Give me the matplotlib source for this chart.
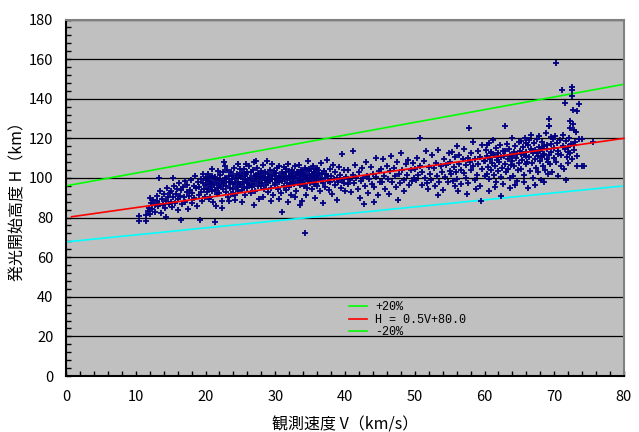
import matplotlib
matplotlib.use("Agg")
import matplotlib.pyplot as plt
from matplotlib.lines import Line2D
from matplotlib.ticker import MultipleLocator

plt.rcParams['font.family'] = ['Noto Sans CJK JP', 'DejaVu Sans']

# ---- data (V km/s, H km) ----
pts_10_15 = [(10.5,78.3),(10.5,81.0),(11.4,78.3),(11.4,81.2),(11.7,83.5),(11.9,85.0),(12.1,82.0),(12.2,87.6),(12.4,84.3),(12.5,89.0),(12.7,86.2),(12.8,83.0),(13.0,88.4),(13.1,91.0),(13.2,85.6),(13.4,87.0),(13.5,93.5),(13.6,82.5),(13.8,89.6),(13.9,86.4),(14.1,91.8),(14.2,84.8),(14.4,88.2),(14.5,95.0),(14.6,90.4),(14.8,86.8),(14.9,92.6),(13.3,100.2),(12.0,90.0),(14.3,80.5)]
pts_15_20 = [(15.0,88.0),(15.1,93.2),(15.2,85.4),(15.3,100.2),(15.4,90.6),(15.5,96.0),(15.6,87.2),(15.8,92.0),(15.9,94.6),(16.0,89.4),(16.1,83.6),(16.2,97.2),(16.3,91.0),(16.5,78.8),(16.5,93.8),(16.6,86.6),(16.8,95.4),(16.9,90.2),(17.0,98.4),(17.1,88.0),(17.3,92.8),(17.4,96.6),(17.5,84.4),(17.6,90.8),(17.8,94.0),(17.9,99.0),(18.0,87.6),(18.1,92.4),(18.3,96.0),(18.4,89.8),(18.5,101.0),(18.7,94.8),(18.8,86.0),(18.9,98.0),(19.0,91.6),(19.1,95.6),(19.2,79.0),(19.3,99.6),(19.4,93.0),(19.5,88.4),(19.6,97.2),(19.7,101.8),(19.8,94.2),(19.9,90.6),(20.0,98.8)]
pts_20_25 = [(20.1,96.2),(20.1,100.4),(20.2,92.8),(20.3,98.4),(20.4,94.6),(20.4,102.0),(20.5,89.6),(20.6,97.0),(20.7,99.8),(20.8,95.2),(20.9,101.2),(21.0,93.6),(21.0,98.0),(21.1,87.8),(21.2,96.6),(21.3,78.0),(21.3,100.6),(21.4,94.0),(21.5,99.2),(21.6,91.8),(21.7,97.6),(21.8,103.4),(21.9,95.8),(22.0,99.0),(22.0,92.4),(22.1,101.6),(22.2,96.4),(22.3,88.6),(22.4,98.6),(22.5,94.2),(22.5,102.8),(22.6,108.0),(22.7,97.2),(22.8,100.2),(22.9,93.0),(23.0,99.6),(23.0,96.0),(23.1,104.0),(23.2,90.6),(23.3,98.2),(23.4,101.0),(23.5,95.0),(23.5,97.8),(23.6,103.0),(23.7,92.0),(23.8,99.4),(23.9,96.8),(24.0,100.8),(24.0,94.4),(24.1,105.0),(24.2,97.4),(24.3,89.0),(24.4,99.8),(24.5,102.2),(24.5,95.6),(24.6,98.0),(24.7,93.2),(24.8,101.4),(24.9,96.6),(25.0,104.4),(20.6,90.4),(21.5,86.0),(22.3,84.6),(23.4,88.2),(24.2,91.2),(20.9,104.6),(22.8,106.0),(24.6,107.2),(21.8,95.0),(23.9,91.8)]
pts_25_30 = [(25.0,97.0),(25.1,100.6),(25.2,93.8),(25.3,102.4),(25.4,98.2),(25.5,95.4),(25.5,104.6),(25.6,99.6),(25.7,91.6),(25.8,101.8),(25.9,97.6),(26.0,103.2),(26.0,94.8),(26.1,99.0),(26.2,106.2),(26.3,96.4),(26.4,100.0),(26.5,92.6),(26.5,102.8),(26.6,98.6),(26.7,95.2),(26.8,104.0),(26.9,100.8),(27.0,107.8),(27.0,97.0),(27.1,93.4),(27.2,101.4),(27.3,99.2),(27.4,104.8),(27.5,96.0),(27.5,102.0),(27.6,98.0),(27.7,89.6),(27.8,100.4),(27.9,95.8),(28.0,103.6),(28.0,99.8),(28.1,97.2),(28.2,106.6),(28.3,101.0),(28.4,94.2),(28.5,98.8),(28.5,103.0),(28.6,100.2),(28.7,96.6),(28.8,108.4),(28.9,102.2),(29.0,97.8),(29.0,93.0),(29.1,100.6),(29.2,104.2),(29.3,98.4),(29.4,95.0),(29.5,101.6),(29.5,106.8),(29.6,99.4),(29.7,91.4),(29.8,103.4),(29.9,97.4),(30.0,100.8),(25.3,88.0),(26.9,86.4),(28.2,90.2),(29.4,88.6),(25.8,107.0),(27.3,108.6),(26.4,96.6),(28.7,99.0),(27.9,102.6),(25.6,101.0)]
pts_30_35 = [(30.0,96.4),(30.1,102.6),(30.2,99.0),(30.3,104.8),(30.4,94.6),(30.5,101.2),(30.5,97.8),(30.6,106.0),(30.7,100.0),(30.8,92.4),(30.9,103.0),(31.0,98.6),(31.0,83.0),(31.1,101.8),(31.2,96.0),(31.3,105.4),(31.4,99.6),(31.5,102.8),(31.5,94.0),(31.6,100.4),(31.7,97.4),(31.8,107.0),(31.9,101.0),(32.0,95.6),(32.0,103.6),(32.1,99.2),(32.2,101.6),(32.3,91.2),(32.4,104.2),(32.5,98.2),(32.5,100.6),(32.6,102.4),(32.7,96.8),(32.8,105.8),(32.9,99.8),(33.0,101.4),(33.0,93.6),(33.1,103.2),(33.2,98.0),(33.3,100.2),(33.4,106.6),(33.5,102.0),(33.5,96.2),(33.6,99.4),(33.7,104.0),(33.8,101.0),(33.9,88.4),(34.0,102.6),(34.0,98.8),(34.1,100.8),(34.2,72.0),(34.2,105.0),(34.3,97.0),(34.4,103.8),(34.5,100.0),(34.5,94.8),(34.6,101.6),(34.7,108.6),(34.8,99.0),(34.9,103.4),(35.0,97.6),(35.0,101.2),(30.6,89.6),(31.8,88.0),(32.9,90.4),(33.6,86.2),(34.4,91.4),(30.3,99.4),(31.3,100.4),(32.2,97.0),(33.2,102.8),(34.8,104.6),(33.8,97.2),(34.6,99.6),(32.6,100.0),(31.6,104.4),(33.4,99.0),(33.9,103.0),(34.3,100.6),(34.9,98.4),(34.1,96.0),(33.7,101.8)]
pts_35_40 = [(35.3,102.2),(35.6,100.2),(35.9,103.8),(35.4,98.0),(36.1,101.0),(35.8,96.8),(35.1,104.6),(35.5,99.6),(36.2,104.2),(35.2,100.4),(35.3,94.2),(35.4,106.0),(35.5,97.0),(35.6,103.0),(35.7,89.8),(35.8,101.4),(35.9,98.6),(36.0,105.2),(36.0,96.0),(36.2,100.0),(36.3,102.4),(36.4,93.2),(36.5,99.2),(36.6,107.4),(36.7,101.8),(36.8,97.4),(36.9,87.6),(37.0,103.6),(37.1,99.8),(37.2,95.4),(37.3,102.0),(37.4,109.0),(37.5,98.4),(37.6,100.8),(37.7,94.0),(37.8,104.4),(37.9,97.8),(38.0,101.2),(38.2,92.0),(38.3,106.4),(38.4,99.4),(38.5,96.6),(38.6,103.2),(38.8,100.2),(38.9,88.8),(39.0,98.0),(39.1,105.6),(39.3,101.6),(39.4,95.0),(39.5,112.0),(39.6,99.0),(39.8,103.8),(39.9,97.2),(40.0,93.6)]
pts_40_50 = [(40.2,100.6),(40.4,96.8),(40.5,104.0),(40.7,98.8),(40.9,93.0),(41.1,113.6),(41.2,101.6),(41.3,97.6),(41.5,106.4),(41.6,99.8),(41.8,94.4),(42.0,102.8),(42.1,90.0),(42.3,98.4),(42.5,104.8),(42.6,100.2),(42.8,96.0),(43.0,108.0),(43.1,101.0),(43.3,92.6),(43.5,99.4),(43.7,105.6),(43.8,97.0),(44.0,102.2),(44.2,95.2),(44.4,110.0),(44.5,100.4),(44.7,91.4),(44.9,103.6),(45.0,98.2),(42.7,86.6),(44.1,88.0),(45.2,104.6),(45.3,97.8),(45.5,109.6),(45.6,101.2),(45.8,94.4),(46.0,106.0),(46.1,99.6),(46.3,92.0),(46.5,103.4),(46.6,111.0),(46.8,98.0),(47.0,105.2),(47.2,100.8),(47.3,95.6),(47.5,108.2),(47.7,102.0),(47.9,97.2),(48.0,112.6),(48.2,104.0),(48.4,99.0),(48.5,93.4),(48.7,106.8),(48.9,101.4),(49.1,109.0),(49.2,96.4),(49.4,103.8),(49.6,98.6),(49.8,107.6),(49.9,100.0),(47.6,89.0)]
pts_50_60 = [(50.0,104.4),(50.2,98.8),(50.3,110.2),(50.5,101.6),(50.7,120.2),(50.8,106.0),(51.0,96.6),(51.1,103.2),(51.3,108.8),(51.5,100.0),(51.6,113.4),(51.8,97.4),(52.0,105.4),(52.2,102.0),(52.3,99.2),(52.5,111.8),(52.7,104.8),(52.9,96.0),(53.0,107.6),(53.2,101.0),(53.4,114.2),(53.5,98.2),(53.7,105.8),(53.9,103.0),(54.0,94.0),(54.2,109.4),(54.4,100.6),(54.5,106.6),(54.7,97.8),(54.9,112.4),(55.0,103.6),(53.3,91.6),(51.9,94.6),(55.1,108.2),(55.2,101.8),(55.4,113.0),(55.5,98.4),(55.6,105.4),(55.8,110.6),(55.9,103.0),(56.0,116.2),(56.1,99.6),(56.3,107.0),(56.4,111.8),(56.6,104.2),(56.7,96.8),(56.9,109.4),(57.0,102.6),(57.1,114.6),(57.3,106.4),(57.4,100.2),(57.6,110.0),(57.7,97.2),(57.9,107.8),(58.0,112.8),(58.1,103.8),(58.3,118.0),(58.4,105.8),(58.6,99.0),(58.7,109.8),(58.9,101.4),(59.0,113.8),(59.1,107.0),(59.3,96.0),(59.4,110.8),(59.6,104.6),(59.7,116.6),(59.9,108.6),(60.0,100.8),(56.2,93.4),(57.5,92.0),(58.8,94.6),(59.5,88.6),(57.8,125.0),(55.7,95.8)]
pts_60_65 = [(60.1,108.4),(60.2,114.0),(60.3,102.2),(60.4,111.2),(60.5,105.6),(60.6,117.8),(60.7,99.4),(60.8,109.6),(60.9,113.2),(61.0,104.0),(61.1,107.4),(61.2,119.0),(61.3,101.6),(61.4,111.8),(61.5,106.2),(61.6,115.0),(61.7,98.2),(61.8,109.0),(61.9,112.6),(62.0,103.4),(62.1,108.0),(62.2,116.4),(62.3,100.6),(62.4,110.4),(62.5,105.0),(62.6,113.6),(62.7,97.0),(62.8,111.0),(62.9,126.3),(63.0,107.2),(63.1,102.8),(63.2,117.2),(63.3,109.8),(63.4,104.4),(63.5,114.6),(63.6,99.8),(63.7,111.6),(63.8,106.6),(63.9,120.4),(64.0,108.8),(64.1,101.2),(64.2,113.0),(64.3,105.8),(64.4,116.0),(64.5,110.0),(64.6,98.6),(64.7,112.2),(64.8,103.8),(64.9,118.4),(65.0,107.6),(60.6,93.6),(61.5,95.4),(62.4,91.0),(63.6,94.8),(64.4,96.2),(61.0,112.8),(62.0,110.8),(63.0,113.8),(64.0,111.2),(60.3,116.6)]
pts_65_70 = [(65.1,113.8),(65.2,104.6),(65.3,118.6),(65.4,109.2),(65.5,115.4),(65.6,101.4),(65.7,111.6),(65.8,120.2),(65.9,106.8),(66.0,113.0),(66.1,108.0),(66.2,95.0),(66.3,116.8),(66.4,110.4),(66.5,103.6),(66.6,114.6),(66.7,121.6),(66.8,107.4),(66.9,112.4),(67.0,100.2),(67.1,117.4),(67.2,109.8),(67.3,114.0),(67.4,105.2),(67.5,119.6),(67.6,111.0),(67.7,102.8),(67.8,115.8),(67.9,108.6),(68.0,113.4),(68.1,99.2),(68.2,118.0),(68.3,110.8),(68.4,106.0),(68.5,116.2),(68.6,112.0),(68.7,104.0),(68.8,122.8),(68.9,109.4),(69.0,114.8),(69.1,101.8),(69.2,126.0),(69.3,111.4),(69.4,107.0),(69.5,117.0),(69.6,113.2),(69.7,103.0),(69.8,119.8),(69.9,110.2),(70.0,115.2),(65.3,112.0),(66.0,117.6),(66.8,113.6),(67.5,112.8),(68.2,114.6),(68.9,116.4),(69.6,120.6),(65.7,97.8),(67.2,96.6),(68.6,98.0),(66.4,119.0),(67.8,121.2),(69.1,108.2),(65.9,111.0),(68.4,111.6)]
pts_70_76 = [(70.3,158.0),(71.1,144.3),(72.5,145.8),(72.6,144.3),(72.5,141.3),(71.5,138.0),(73.5,137.2),(72.7,134.3),(73.3,133.7),(69.3,129.8),(69.2,126.3),(72.2,128.6),(72.2,125.4),(72.7,127.1),(72.9,124.2),(73.1,123.0),(70.1,121.0),(70.4,117.6),(70.6,113.8),(70.8,119.4),(71.0,111.6),(71.2,116.0),(71.3,121.8),(71.5,114.4),(71.7,118.6),(71.8,110.4),(72.0,115.6),(72.1,120.0),(72.3,112.8),(72.4,117.0),(72.6,109.6),(72.8,114.2),(73.0,118.2),(73.2,111.0),(70.2,108.0),(70.9,106.2),(71.4,104.6),(72.0,107.4),(74.0,105.9),(74.3,105.9),(71.7,98.8),(70.6,101.0),(73.2,105.9),(75.5,118.0),(74.0,119.8),(70.5,112.0),(71.9,113.0),(72.9,116.4),(73.6,119.6)]

# reference lines (endpoints)
fit_v = [0.8, 80.0]
fit_h = [80.4, 120.0]
upper_v = [0.0, 80.0]
upper_h = [96.0, 147.3]
lower_v = [0.0, 80.0]
lower_h = [67.7, 96.0]

legend_labels = ["+20%", "H = 0.5V+80.0", "-20%"]
legend_colors = ["#00FF00", "#FF0000", "#00FF00"]

all_pts = (pts_10_15 + pts_15_20 + pts_20_25 + pts_25_30 + pts_30_35 + pts_35_40
           + pts_40_50 + pts_50_60 + pts_60_65 + pts_65_70 + pts_70_76)
obs_v = [p[0] for p in all_pts]
obs_h = [p[1] for p in all_pts]

fig = plt.figure(figsize=(6.39, 4.32), dpi=100)
ax = fig.add_axes([66/639, 1-376/432, 558/639, 356.5/432])
ax.set_facecolor("#C0C0C0")

ax.plot(upper_v, upper_h, color="#00FF00", lw=1.2, zorder=2)
ax.plot(lower_v, lower_h, color="#00FFFF", lw=1.2, zorder=2)
ax.plot(obs_v, obs_h, ls="none", marker="+", ms=4.2, mew=1.3, color="#000080", zorder=3)
ax.plot(fit_v, fit_h, color="#FF0000", lw=1.2, zorder=4, clip_on=False)

ax.set_xlim(0, 80)
ax.set_ylim(0, 180)
ax.xaxis.set_major_locator(MultipleLocator(10))
ax.xaxis.set_minor_locator(MultipleLocator(2))
ax.yaxis.set_major_locator(MultipleLocator(20))
ax.yaxis.set_minor_locator(MultipleLocator(4))
ax.set_axisbelow(True)
ax.yaxis.grid(True, which="major", color="black", lw=0.9)
ax.tick_params(which="both", direction="in", length=3.5, width=1, colors="black",
               labelsize=10.5)
ax.tick_params(axis="y", pad=9)
ax.tick_params(axis="x", pad=10)

for s in ["left", "bottom"]:
    ax.spines[s].set_color("black")
    ax.spines[s].set_linewidth(1.5)
for s in ["top", "right"]:
    ax.spines[s].set_color("#808080")
    ax.spines[s].set_linewidth(1.5)

ax.set_xlabel("観測速度 V（km/s）", fontsize=11.5, labelpad=9)
ax.set_ylabel("発光開始高度 H（km）", fontsize=11.5, labelpad=2)

handles = [Line2D([], [], color=c, lw=1.2) for c in legend_colors]
ax.legend(handles, legend_labels, loc="upper left", bbox_to_anchor=(0.507, 0.21),
          frameon=False, prop={"family": "Liberation Mono", "size": 8.5},
          handlelength=1.5, handletextpad=0.7, labelspacing=0.05, borderpad=0,
          borderaxespad=0)

fig.savefig("out.png", dpi=100, facecolor="white")
